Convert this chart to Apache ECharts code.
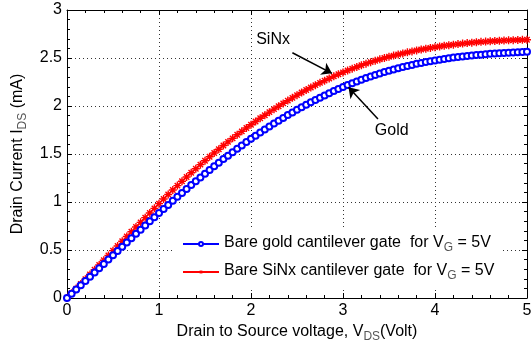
<!DOCTYPE html>
<html>
<head>
<meta charset="utf-8">
<script src="https://cdn.jsdelivr.net/npm/echarts@6/dist/echarts.min.js"></script>
<style>
  html, body { margin: 0; padding: 0; background: #fff; }
  #chart { width: 531px; height: 347px; }
</style>
</head>
<body>
<div id="chart"></div>
<script>
// Drain-source voltage sweep (V)
const vds = [
  0.00, 0.05, 0.10, 0.15, 0.20, 0.25, 0.30, 0.35, 0.40, 0.45, 0.50,
  0.55, 0.60, 0.65, 0.70, 0.75, 0.80, 0.85, 0.90, 0.95, 1.00,
  1.05, 1.10, 1.15, 1.20, 1.25, 1.30, 1.35, 1.40, 1.45, 1.50,
  1.55, 1.60, 1.65, 1.70, 1.75, 1.80, 1.85, 1.90, 1.95, 2.00,
  2.05, 2.10, 2.15, 2.20, 2.25, 2.30, 2.35, 2.40, 2.45, 2.50,
  2.55, 2.60, 2.65, 2.70, 2.75, 2.80, 2.85, 2.90, 2.95, 3.00,
  3.05, 3.10, 3.15, 3.20, 3.25, 3.30, 3.35, 3.40, 3.45, 3.50,
  3.55, 3.60, 3.65, 3.70, 3.75, 3.80, 3.85, 3.90, 3.95, 4.00,
  4.05, 4.10, 4.15, 4.20, 4.25, 4.30, 4.35, 4.40, 4.45, 4.50,
  4.55, 4.60, 4.65, 4.70, 4.75, 4.80, 4.85, 4.90, 4.95, 5.00
];

// Drain current (mA), bare gold cantilever gate, VG = 5 V
const idsGold = [
  0.000, 0.044, 0.088, 0.133, 0.177, 0.221, 0.266, 0.311, 0.355, 0.400, 0.445,
  0.490, 0.535, 0.579, 0.623, 0.668, 0.711, 0.755, 0.799, 0.842, 0.885,
  0.928, 0.970, 1.012, 1.054, 1.095, 1.136, 1.176, 1.216, 1.256, 1.295,
  1.334, 1.372, 1.410, 1.447, 1.483, 1.519, 1.555, 1.589, 1.624, 1.658,
  1.691, 1.723, 1.755, 1.786, 1.817, 1.847, 1.876, 1.905, 1.933, 1.960,
  1.987, 2.013, 2.038, 2.063, 2.087, 2.110, 2.133, 2.155, 2.177, 2.198,
  2.218, 2.237, 2.256, 2.274, 2.291, 2.308, 2.324, 2.339, 2.354, 2.368,
  2.381, 2.393, 2.406, 2.417, 2.428, 2.439, 2.449, 2.458, 2.467, 2.475,
  2.483, 2.490, 2.497, 2.504, 2.510, 2.516, 2.521, 2.526, 2.531, 2.535,
  2.539, 2.543, 2.546, 2.549, 2.553, 2.555, 2.558, 2.561, 2.563, 2.565
];

// Drain current (mA), bare SiNx cantilever gate, VG = 5 V
const idsSiNx = [
  0.000, 0.049, 0.098, 0.147, 0.196, 0.246, 0.295, 0.344, 0.394, 0.443, 0.493,
  0.542, 0.591, 0.641, 0.690, 0.739, 0.788, 0.837, 0.885, 0.934, 0.983,
  1.031, 1.078, 1.125, 1.171, 1.216, 1.260, 1.304, 1.347, 1.389, 1.430,
  1.471, 1.511, 1.550, 1.588, 1.626, 1.663, 1.700, 1.736, 1.771, 1.805,
  1.839, 1.872, 1.904, 1.936, 1.967, 1.997, 2.027, 2.056, 2.085, 2.113,
  2.140, 2.166, 2.192, 2.217, 2.241, 2.264, 2.287, 2.309, 2.330, 2.350,
  2.370, 2.389, 2.407, 2.424, 2.441, 2.457, 2.472, 2.486, 2.500, 2.513,
  2.525, 2.537, 2.548, 2.559, 2.569, 2.579, 2.588, 2.597, 2.605, 2.613,
  2.620, 2.627, 2.633, 2.639, 2.645, 2.650, 2.655, 2.660, 2.664, 2.668,
  2.671, 2.674, 2.677, 2.680, 2.682, 2.684, 2.686, 2.688, 2.689, 2.690
];

const seriesNames = ['Bare gold cantilever gate  for V', 'Bare SiNx cantilever gate  for V'];
const legendSub = 'G';
const legendTail = ' = 5V';

// Callout text and arrows: [text position], [arrow tail, arrow head]
const calloutText = ['SiNx', 'Gold'];
const calloutTextAt = [[2.24, 2.69], [3.53, 1.74]];
const calloutArrows = [
  [[2.45, 2.555], [2.88, 2.34]],
  [[3.38, 1.865], [3.06, 2.195]]
];

const FONT = '"Liberation Sans", Arial, sans-serif';

// asterisk-like marker: plus bars and diagonal bars, all wound the same way
const starPath = 'path://M-0.7,-4L0.7,-4L0.7,4L-0.7,4Z' +
  'M-4,-0.7L4,-0.7L4,0.7L-4,0.7Z' +
  'M-3.2,-2.2L-2.2,-3.2L3.2,2.2L2.2,3.2Z' +
  'M3.2,-2.2L-2.2,3.2L-3.2,2.2L2.2,-3.2Z';

const chart = echarts.init(document.getElementById('chart'), null, { renderer: 'canvas' });

const pairs = (ys) => vds.map((x, i) => [x, ys[i]]);

const boxAxisCommon = {
  axisLine: { show: true, onZero: false, lineStyle: { color: '#000', width: 1 } },
  axisTick: { show: true, inside: true, length: 5, lineStyle: { color: '#000' } },
  minorTick: { show: true, splitNumber: 5, length: 3, lineStyle: { color: '#000' } },
  axisLabel: { show: false },
  splitLine: { show: false }
};

const subRich = {
  a: { fontFamily: FONT, fontSize: 16, color: '#000', verticalAlign: 'top', lineHeight: 18 },
  s: { fontFamily: FONT, fontSize: 12, color: '#555', verticalAlign: 'top', lineHeight: 18, padding: [7, 0, 0, 0] }
};

const option = {
  animation: false,
  backgroundColor: '#fff',
  grid: { left: 67, right: 4, top: 10, bottom: 49, containLabel: false, outerBoundsMode: 'none' },
  xAxis: [
    {
      type: 'value', min: 0, max: 5, interval: 1, position: 'bottom',
      name: '{a|Drain to Source voltage, V}{s|DS}{a|(Volt)}',
      nameLocation: 'middle', nameGap: 22,
      nameTextStyle: { rich: subRich },
      axisLine: { show: true, onZero: false, lineStyle: { color: '#000', width: 1 } },
      axisTick: { show: true, inside: true, length: 5, lineStyle: { color: '#000' } },
      minorTick: { show: true, splitNumber: 5, length: 3, lineStyle: { color: '#000' } },
      axisLabel: { fontFamily: FONT, fontSize: 16, color: '#000', margin: 5 },
      splitLine: { show: true, lineStyle: { color: '#333', type: [1, 3], width: 1 } }
    },
    Object.assign({ type: 'value', min: 0, max: 5, interval: 1, position: 'top' }, boxAxisCommon)
  ],
  yAxis: [
    {
      type: 'value', min: 0, max: 3, interval: 0.5, position: 'left',
      name: '{a|Drain Current I}{s|DS}{a| (mA)}',
      nameLocation: 'middle', nameGap: 37, nameRotate: 90,
      nameTextStyle: { rich: subRich },
      axisLine: { show: true, onZero: false, lineStyle: { color: '#000', width: 1 } },
      axisTick: { show: true, inside: true, length: 5, lineStyle: { color: '#000' } },
      minorTick: { show: true, splitNumber: 5, length: 3, lineStyle: { color: '#000' } },
      axisLabel: { fontFamily: FONT, fontSize: 16, color: '#000', margin: 5 },
      splitLine: { show: true, lineStyle: { color: '#333', type: [1, 3], width: 1 } }
    },
    Object.assign({ type: 'value', min: 0, max: 3, interval: 0.5, position: 'right' }, boxAxisCommon)
  ],
  legend: {
    left: 172, top: 227,
    orient: 'vertical',
    backgroundColor: '#fff',
    borderWidth: 0,
    padding: [8, 8, 8, 10],
    itemGap: 9,
    itemWidth: 36, itemHeight: 5,
    data: seriesNames,
    formatter: (name) => '{a|' + name + '}{s|' + legendSub + '}{a|' + legendTail + '}',
    textStyle: { rich: subRich }
  },
  series: [
    {
      name: seriesNames[0],
      type: 'line',
      data: pairs(idsGold),
      symbol: 'emptyCircle',
      symbolSize: 6,
      color: '#0000ff',
      lineStyle: { color: '#0000ff', width: 1 },
      itemStyle: { color: '#0000ff', borderColor: '#0000ff', borderWidth: 1.2 },
      z: 3,
      markPoint: {
        symbol: 'circle', symbolSize: 0,
        label: {
          show: true, position: 'inside', formatter: '{b}',
          fontFamily: FONT, fontSize: 16, color: '#000'
        },
        data: calloutText.map((t, i) => ({ name: t, coord: calloutTextAt[i] }))
      }
    },
    {
      name: seriesNames[1],
      type: 'line',
      data: pairs(idsSiNx),
      symbol: starPath,
      symbolSize: 8,
      color: '#ff0000',
      lineStyle: { color: '#ff0000', width: 1.5 },
      itemStyle: { color: '#ff0000' },
      z: 2,
      markLine: {
        silent: true,
        symbol: ['none', 'arrow'],
        symbolSize: 10,
        label: { show: false },
        lineStyle: { color: '#000', width: 1.5, type: 'solid' },
        emphasis: { disabled: true },
        data: calloutArrows.map(a => [{ coord: a[0] }, { coord: a[1] }])
      }
    }
  ]
};

chart.setOption(option);
</script>
</body>
</html>
